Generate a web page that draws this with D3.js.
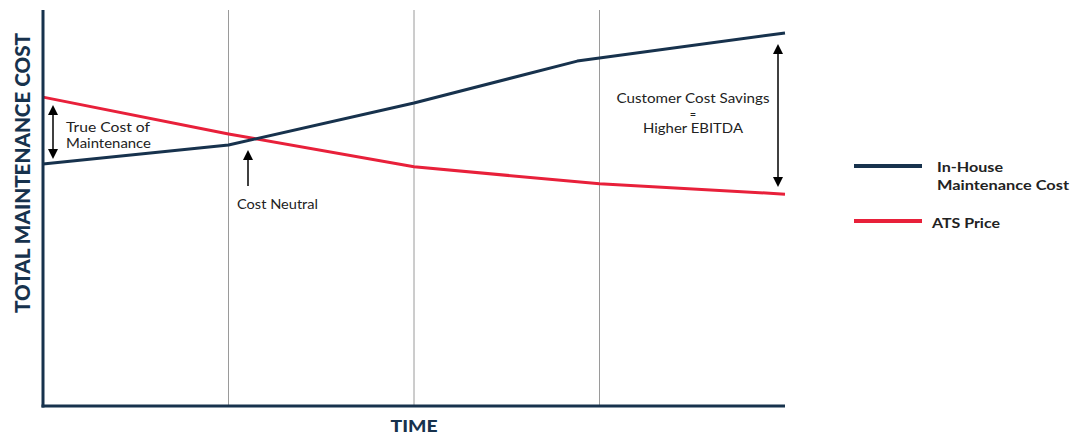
<!DOCTYPE html>
<html><head><meta charset="utf-8">
<script src="https://cdn.jsdelivr.net/npm/d3@7"></script>
<style>
body{margin:0;background:#fff;}
text{font-family:Lato,"Open Sans",sans-serif;}
</style></head>
<body><svg id="c" width="1080" height="436"></svg>
<script>
const timePoints = [0, 1, 2, 3, 4];
const inHouseX = [0, 1, 2, 2.88, 4];
const inHouseCost = [61.1, 65.9, 76.5, 87.1, 94.2];
const atsX = [0, 1, 2, 3, 4];
const atsPrice = [78.0, 68.7, 60.4, 56.1, 53.5];
const seriesNames = ["In-House Maintenance Cost", "ATS Price"];
const navy = "#17324d", red = "#e8203a";

const svg = d3.select("#c");
const x = d3.scaleLinear().domain([0, 4]).range([43, 785]);
const y = d3.scaleLinear().domain([0, 100]).range([406, 10]);

// gridlines
svg.append("g").selectAll("line").data(timePoints.slice(1, 4)).join("line")
  .attr("x1", d => x(d)).attr("x2", d => x(d)).attr("y1", y(100)).attr("y2", y(0))
  .attr("stroke", "#9a9a9a").attr("stroke-width", 1);

const line = d3.line().x(d => x(d[0])).y(d => y(d[1])).curve(d3.curveLinear);
svg.append("path").datum(atsX.map((v, i) => [v, atsPrice[i]]))
  .attr("d", line).attr("fill", "none").attr("stroke", red).attr("stroke-width", 3).attr("stroke-linejoin", "round");
svg.append("path").datum(inHouseX.map((v, i) => [v, inHouseCost[i]]))
  .attr("d", line).attr("fill", "none").attr("stroke", navy).attr("stroke-width", 3).attr("stroke-linejoin", "round");

// axes
svg.append("line").attr("x1", x(0)).attr("x2", x(0)).attr("y1", y(100)).attr("y2", y(0) + 1.5)
  .attr("stroke", navy).attr("stroke-width", 3);
svg.append("line").attr("x1", x(0) - 1.5).attr("x2", x(4)).attr("y1", y(0)).attr("y2", y(0))
  .attr("stroke", navy).attr("stroke-width", 3);

// arrow markers
const defs = svg.append("defs");
defs.append("marker").attr("id", "ah").attr("viewBox", "0 0 10 10").attr("refX", 5).attr("refY", 5)
  .attr("markerWidth", 11).attr("markerHeight", 10).attr("markerUnits", "userSpaceOnUse").attr("orient", "auto-start-reverse")
  .append("path").attr("d", "M0,0 L10,5 L0,10 z").attr("fill", "#000");

function arrow(x0, y0, x1, y1, both) {
  const l = svg.append("line").attr("x1", x0).attr("y1", y0).attr("x2", x1).attr("y2", y1)
    .attr("stroke", "#000").attr("stroke-width", 1.5).attr("marker-end", "url(#ah)");
  if (both) l.attr("marker-start", "url(#ah)");
}
arrow(53, 110, 53, 154, true);
arrow(248, 186, 248, 155, false);
arrow(778, 49, 778, 182, true);

function label(g, tx, ty, txt, len, anchor, fs) {
  const t = g.append("text").attr("x", tx).attr("y", ty).text(txt);
  if (len) t.attr("textLength", len).attr("lengthAdjust", "spacingAndGlyphs");
  if (anchor) t.attr("text-anchor", anchor);
  if (fs) t.attr("font-size", fs);
  return t;
}
const ann = svg.append("g").attr("font-size", 13.3).attr("fill", "#222");
label(ann, 66, 132, "True Cost of", 84);
label(ann, 66, 148, "Maintenance", 85);
label(ann, 237, 209, "Cost Neutral", 81);
label(ann, 693, 103, "Customer Cost Savings", 153, "middle");
label(ann, 693, 117.7, "=", null, "middle", 11);
label(ann, 693, 133, "Higher EBITDA", 100, "middle");

// axis titles
svg.append("text").attr("transform", "translate(29.5,173) rotate(-90)").attr("text-anchor", "middle")
  .attr("font-size", 20).attr("font-weight", 900).attr("fill", navy)
  .attr("textLength", 280).attr("lengthAdjust", "spacingAndGlyphs").text("TOTAL MAINTENANCE COST");
svg.append("text").attr("x", 414).attr("y", 432).attr("text-anchor", "middle")
  .attr("font-size", 17).attr("font-weight", 900).attr("fill", navy)
  .attr("textLength", 47).attr("lengthAdjust", "spacingAndGlyphs").text("TIME");

// legend
const lg = svg.append("g").attr("font-size", 14).attr("font-weight", 700).attr("fill", "#222");
lg.append("line").attr("x1", 854).attr("x2", 922).attr("y1", 166).attr("y2", 166).attr("stroke", navy).attr("stroke-width", 4);
label(lg, 937, 172, "In-House", 66);
label(lg, 937, 190, "Maintenance Cost", 132);
lg.append("line").attr("x1", 854).attr("x2", 922).attr("y1", 221).attr("y2", 221).attr("stroke", red).attr("stroke-width", 4);
label(lg, 932, 228, "ATS Price", 68);
</script></body></html>
